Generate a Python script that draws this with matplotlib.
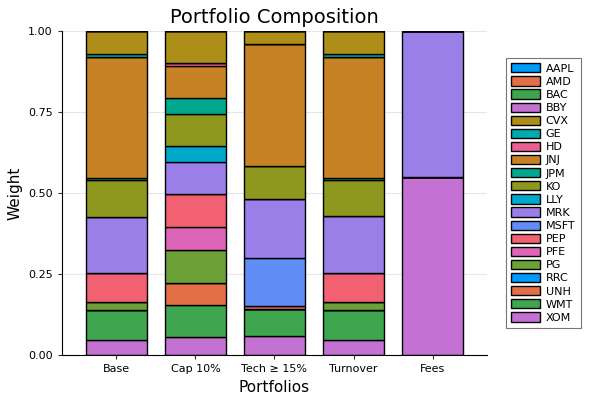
import matplotlib.pyplot as plt
import numpy as np

portfolios = ["Base", "Cap 10%", "Tech ≥ 15%", "Turnover", "Fees"]
tickers = ["AAPL", "AMD", "BAC", "BBY", "CVX", "GE", "HD", "JNJ", "JPM", "KO",
           "LLY", "MRK", "MSFT", "PEP", "PFE", "PG", "RRC", "UNH", "WMT", "XOM"]

# weights per ticker, one value per portfolio (Base, Cap 10%, Tech, Turnover, Fees)
AAPL = [0.0, 0.0, 0.0, 0.0, 0.0]
AMD = [0.0, 0.0, 0.0, 0.0, 0.0]
BAC = [0.0, 0.0, 0.0, 0.0, 0.0]
BBY = [0.0, 0.0, 0.0, 0.0, 0.0]
CVX = [0.072, 0.100, 0.040, 0.072, 0.0]
GE = [0.009, 0.0, 0.0, 0.009, 0.0]
HD = [0.0, 0.008, 0.0, 0.0, 0.0]
JNJ = [0.372, 0.100, 0.376, 0.372, 0.0]
JPM = [0.007, 0.048, 0.0, 0.007, 0.0]
KO = [0.113, 0.100, 0.103, 0.112, 0.0]
LLY = [0.0, 0.048, 0.0, 0.0, 0.0]
MRK = [0.175, 0.100, 0.182, 0.175, 0.452]
MSFT = [0.0, 0.0, 0.147, 0.0, 0.0]
PEP = [0.089, 0.101, 0.010, 0.090, 0.0]
PFE = [0.0, 0.071, 0.0, 0.0, 0.0]
PG = [0.023, 0.101, 0.0, 0.023, 0.0]
RRC = [0.0, 0.0, 0.0, 0.0, 0.0]
UNH = [0.0, 0.068, 0.0, 0.0, 0.0]
WMT = [0.094, 0.100, 0.083, 0.095, 0.0]
XOM = [0.046, 0.055, 0.059, 0.045, 0.548]

weights = [AAPL, AMD, BAC, BBY, CVX, GE, HD, JNJ, JPM, KO,
           LLY, MRK, MSFT, PEP, PFE, PG, RRC, UNH, WMT, XOM]

# Plots.jl default palette (16 colours, cycles)
palette = ["#009AFA", "#E36F47", "#3EA44E", "#C371D2", "#AC8E18", "#00AAAE",
           "#ED5E93", "#C68225", "#00A98D", "#8E971E", "#00A9C9", "#9B7FE9",
           "#618DF7", "#F16171", "#DD65B7", "#6CA13A"]

fig = plt.figure(figsize=(6, 4), dpi=100)
ax = fig.add_axes([0.103, 0.1125, 0.709, 0.81])

x = np.arange(len(portfolios))
bottom = np.zeros(len(portfolios))
handles = []
# last series sits at the bottom of the stack
for i in reversed(range(len(tickers))):
    w = np.array(weights[i])
    b = ax.bar(x, w, width=0.78, bottom=bottom, color=palette[i % 16],
               edgecolor="black", linewidth=1.0, label=tickers[i], zorder=2)
    bottom += w
    handles.append(b)

handles = handles[::-1]
leg = ax.legend(handles, tickers, loc="center left", bbox_to_anchor=(1.03, 0.5),
                fontsize=8, frameon=True, fancybox=False, edgecolor="#555555",
                handlelength=2.6, handleheight=0.9, labelspacing=0.24,
                borderpad=0.5, handletextpad=0.5)
leg.get_frame().set_linewidth(0.8)

ax.set_xlim(-0.69, 4.69)
ax.set_ylim(0, 1.0)
ax.set_xticks(x)
ax.set_xticklabels(portfolios)
ax.set_yticks([0, 0.25, 0.5, 0.75, 1.0])
ax.set_yticklabels(["0.00", "0.25", "0.50", "0.75", "1.00"])
ax.tick_params(labelsize=8, length=3, color="#333333")
ax.grid(True, color="#e6e6e6", linewidth=0.8, zorder=0)
ax.set_axisbelow(True)
for s in ["top", "right"]:
    ax.spines[s].set_visible(False)
ax.set_title("Portfolio Composition", fontsize=14)
ax.set_xlabel("Portfolios", fontsize=11)
ax.set_ylabel("Weight", fontsize=11)

fig.savefig("out.png", dpi=100)
